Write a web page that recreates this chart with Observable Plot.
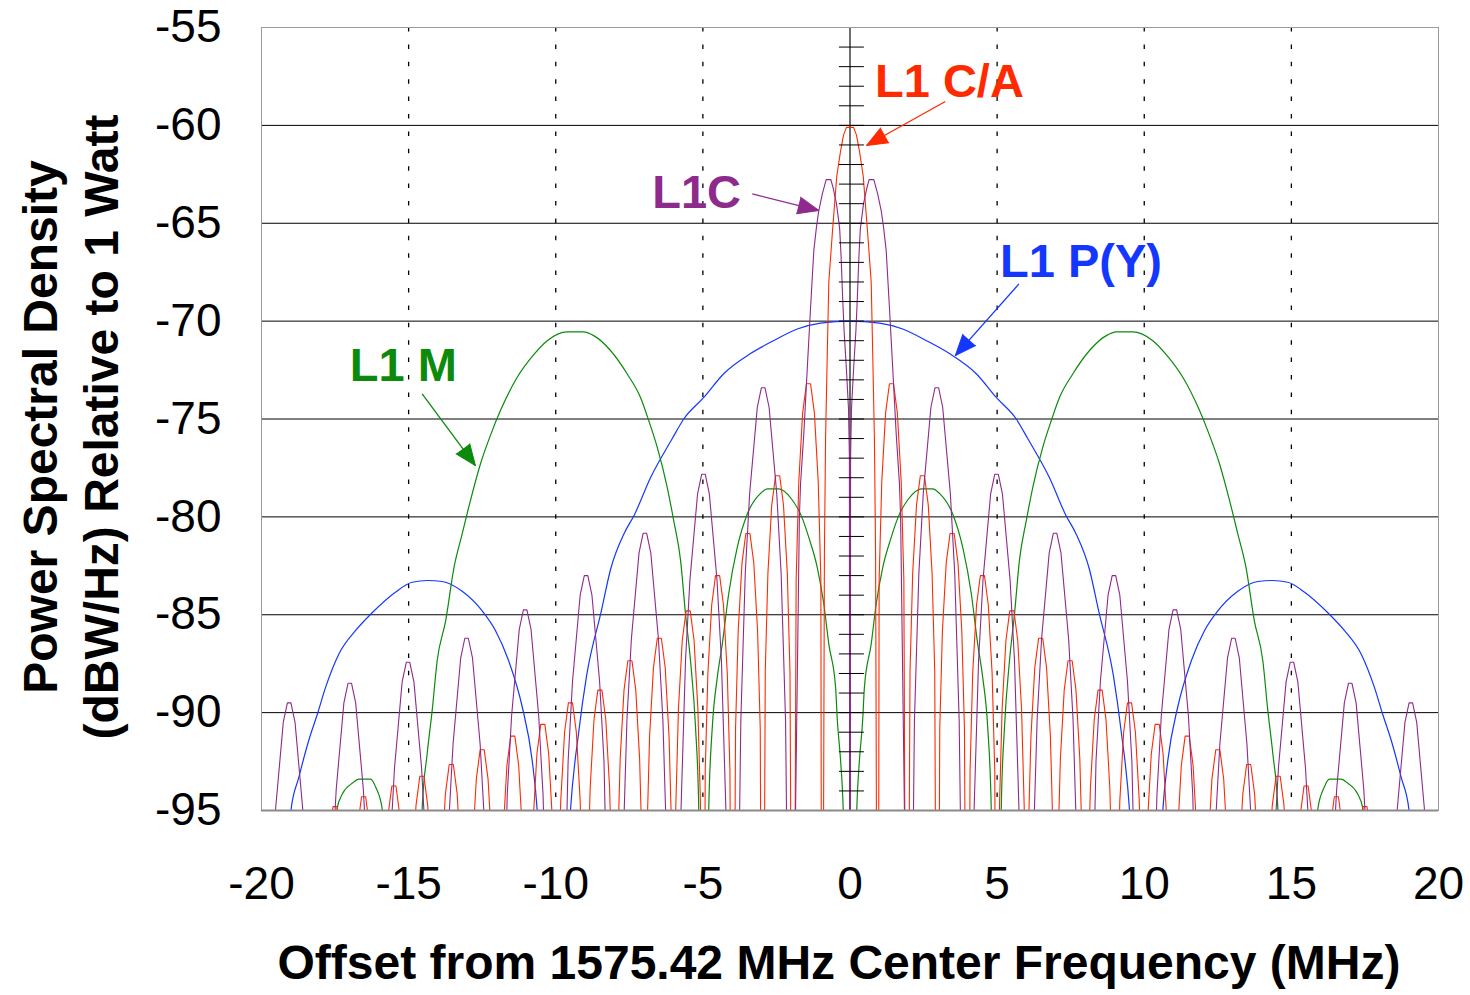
<!DOCTYPE html>
<html><head><meta charset="utf-8">
<script src="https://cdn.jsdelivr.net/npm/d3@7"></script>
<script src="https://cdn.jsdelivr.net/npm/@observablehq/plot@0.6"></script>
<style>body{margin:0;background:#fff;} #chart svg{display:block;}</style>
</head><body><div id="chart"></div>
<script>
// ---- axis ticks / grid values ----
const xTicks = [-20, -15, -10, -5, 0, 5, 10, 15, 20];
const yTicks = [-95, -90, -85, -80, -75, -70, -65, -60, -55];
const xGridDashed = [-15, -10, -5, 5, 10, 15];
const yGridSolid = [-90, -85, -80, -75, -70, -65, -60];
const centerAxisTicks = d3.range(-95, -54, 1);

// ---- series: [MHz offset, dBW/Hz]; -120 marks a spectral null below the floor ----
const caSeries = [
[-18.0,-120],[-17.7,-96.3],[-17.57,-94.8],[-17.43,-94.8],[-17.3,-96.3],[-17.02,-120],
[-16.73,-95.8],[-16.6,-94.3],[-16.46,-94.3],[-16.33,-95.8],[-16.01,-120],
[-15.83,-98.75],[-15.7,-95.25],[-15.57,-93.75],[-15.43,-93.75],[-15.3,-95.25],[-15.17,-98.75],[-15.03,-120],
[-14.88,-98.25],[-14.75,-94.75],[-14.62,-93.25],[-14.48,-93.25],[-14.35,-94.75],[-14.22,-98.25],[-14.05,-120],
[-13.88,-97.65],[-13.75,-94.15],[-13.62,-92.65],[-13.48,-92.65],[-13.35,-94.15],[-13.22,-97.65],[-13.02,-120],
[-12.83,-96.9],[-12.7,-93.4],[-12.57,-91.9],[-12.43,-91.9],[-12.3,-93.4],[-12.17,-96.9],[-11.98,-120],
[-11.79,-96.2],[-11.66,-92.7],[-11.53,-91.2],[-11.39,-91.2],[-11.26,-92.7],[-11.13,-96.2],[-10.94,-120],
[-10.77,-95.6],[-10.64,-92.1],[-10.51,-90.6],[-10.37,-90.6],[-10.24,-92.1],[-10.11,-95.6],[-9.96,-120],
[-9.92,-99.5],[-9.83,-94.5],[-9.7,-91],[-9.57,-89.5],[-9.43,-89.5],[-9.3,-91],[-9.17,-94.5],[-9.08,-99.5],[-9.0,-120],
[-8.92,-98.85],[-8.83,-93.85],[-8.7,-90.35],[-8.57,-88.85],[-8.43,-88.85],[-8.3,-90.35],[-8.17,-93.85],[-8.08,-98.85],[-7.99,-120],
[-7.9,-97.35],[-7.81,-92.35],[-7.68,-88.85],[-7.55,-87.35],[-7.41,-87.35],[-7.28,-88.85],[-7.15,-92.35],[-7.06,-97.35],[-6.98,-120],
[-6.9,-96.2],[-6.81,-91.2],[-6.68,-87.7],[-6.55,-86.2],[-6.41,-86.2],[-6.28,-87.7],[-6.15,-91.2],[-6.06,-96.2],[-5.99,-120],
[-5.92,-94.8],[-5.83,-89.8],[-5.7,-86.3],[-5.57,-84.8],[-5.43,-84.8],[-5.3,-86.3],[-5.17,-89.8],[-5.08,-94.8],[-5.0,-120],
[-4.92,-93],[-4.83,-88],[-4.7,-84.5],[-4.57,-83],[-4.43,-83],[-4.3,-84.5],[-4.17,-88],[-4.08,-93],[-3.99,-120],
[-3.89,-90.85],[-3.8,-85.85],[-3.67,-82.35],[-3.54,-80.85],[-3.4,-80.85],[-3.27,-82.35],[-3.14,-85.85],[-3.05,-90.85],[-2.97,-120],
[-2.88,-87.9],[-2.79,-82.9],[-2.66,-79.4],[-2.53,-77.9],[-2.39,-77.9],[-2.26,-79.4],[-2.13,-82.9],[-2.04,-87.9],[-1.93,-120],
[-1.83,-83.2],[-1.74,-78.2],[-1.61,-74.7],[-1.48,-73.2],[-1.34,-73.2],[-1.21,-74.7],[-1.08,-78.2],[-0.99,-83.2],[-0.95,-120],
[-0.87,-82],[-0.83,-76],[-0.77,-71.5],[-0.72,-68],[-0.6,-65.5],[-0.45,-62.6],[-0.32,-61.3],[-0.22,-60.5],[-0.12,-60.1],
[0.12,-60.1],[0.22,-60.5],[0.32,-61.3],[0.45,-62.6],[0.6,-65.5],[0.72,-68],[0.77,-71.5],[0.83,-76],[0.87,-82],[0.95,-120],
[0.99,-83.2],[1.08,-78.2],[1.21,-74.7],[1.34,-73.2],[1.48,-73.2],[1.61,-74.7],[1.74,-78.2],[1.83,-83.2],[1.93,-120],
[2.04,-87.9],[2.13,-82.9],[2.26,-79.4],[2.39,-77.9],[2.53,-77.9],[2.66,-79.4],[2.79,-82.9],[2.88,-87.9],[2.97,-120],
[3.05,-90.85],[3.14,-85.85],[3.27,-82.35],[3.4,-80.85],[3.54,-80.85],[3.67,-82.35],[3.8,-85.85],[3.89,-90.85],[3.99,-120],
[4.08,-93],[4.17,-88],[4.3,-84.5],[4.43,-83],[4.57,-83],[4.7,-84.5],[4.83,-88],[4.92,-93],[5.0,-120],
[5.08,-94.8],[5.17,-89.8],[5.3,-86.3],[5.43,-84.8],[5.57,-84.8],[5.7,-86.3],[5.83,-89.8],[5.92,-94.8],[5.99,-120],
[6.06,-96.2],[6.15,-91.2],[6.28,-87.7],[6.41,-86.2],[6.55,-86.2],[6.68,-87.7],[6.81,-91.2],[6.9,-96.2],[6.98,-120],
[7.06,-97.35],[7.15,-92.35],[7.28,-88.85],[7.41,-87.35],[7.55,-87.35],[7.68,-88.85],[7.81,-92.35],[7.9,-97.35],[7.99,-120],
[8.08,-98.85],[8.17,-93.85],[8.3,-90.35],[8.43,-88.85],[8.57,-88.85],[8.7,-90.35],[8.83,-93.85],[8.92,-98.85],[9.0,-120],
[9.08,-99.5],[9.17,-94.5],[9.3,-91],[9.43,-89.5],[9.57,-89.5],[9.7,-91],[9.83,-94.5],[9.92,-99.5],[9.96,-120],
[10.11,-95.6],[10.24,-92.1],[10.37,-90.6],[10.51,-90.6],[10.64,-92.1],[10.77,-95.6],[10.94,-120],
[11.13,-96.2],[11.26,-92.7],[11.39,-91.2],[11.53,-91.2],[11.66,-92.7],[11.79,-96.2],[11.98,-120],
[12.17,-96.9],[12.3,-93.4],[12.43,-91.9],[12.57,-91.9],[12.7,-93.4],[12.83,-96.9],[13.02,-120],
[13.22,-97.65],[13.35,-94.15],[13.48,-92.65],[13.62,-92.65],[13.75,-94.15],[13.88,-97.65],[14.05,-120],
[14.22,-98.25],[14.35,-94.75],[14.48,-93.25],[14.62,-93.25],[14.75,-94.75],[14.88,-98.25],[15.03,-120],
[15.17,-98.75],[15.3,-95.25],[15.43,-93.75],[15.57,-93.75],[15.7,-95.25],[15.83,-98.75],[16.01,-120],
[16.33,-95.8],[16.46,-94.3],[16.6,-94.3],[16.73,-95.8],[17.02,-120],
[17.3,-96.3],[17.43,-94.8],[17.57,-94.8],[17.7,-96.3],[18.0,-120]
];

const l1cSeries = [
[-20.05,-120],
[-19.52,-94.9],[-19.26,-90.5],[-19.12,-89.5],[-19.0,-89.5],[-18.86,-90.5],[-18.6,-94.9],[-18.03,-120],
[-17.61,-98],[-17.46,-93.9],[-17.2,-89.5],[-17.06,-88.5],[-16.94,-88.5],[-16.8,-89.5],[-16.54,-93.9],[-16.39,-98],[-16.0,-120],
[-15.63,-96.93],[-15.48,-92.83],[-15.22,-88.43],[-15.08,-87.43],[-14.96,-87.43],[-14.82,-88.43],[-14.56,-92.83],[-14.41,-96.93],[-14.02,-120],
[-13.64,-95.7],[-13.49,-91.6],[-13.23,-87.2],[-13.09,-86.2],[-12.97,-86.2],[-12.83,-87.2],[-12.57,-91.6],[-12.42,-95.7],[-12.03,-120],
[-11.65,-94.25],[-11.5,-90.15],[-11.24,-85.75],[-11.1,-84.75],[-10.98,-84.75],[-10.84,-85.75],[-10.58,-90.15],[-10.43,-94.25],[-10.0,-120],
[-9.58,-92.5],[-9.43,-88.4],[-9.17,-84],[-9.03,-83],[-8.91,-83],[-8.77,-84],[-8.51,-88.4],[-8.36,-92.5],[-7.97,-120],
[-7.73,-97.84],[-7.58,-90.34],[-7.43,-86.24],[-7.17,-81.84],[-7.03,-80.84],[-6.91,-80.84],[-6.77,-81.84],[-6.51,-86.24],[-6.36,-90.34],[-6.21,-97.84],[-5.97,-120],
[-5.74,-94.82],[-5.59,-87.32],[-5.44,-83.22],[-5.18,-78.82],[-5.04,-77.82],[-4.92,-77.82],[-4.78,-78.82],[-4.52,-83.22],[-4.37,-87.32],[-4.22,-94.82],[-3.97,-120],
[-3.71,-90.4],[-3.56,-82.9],[-3.41,-78.8],[-3.15,-74.4],[-3.01,-73.4],[-2.89,-73.4],[-2.75,-74.4],[-2.49,-78.8],[-2.34,-82.9],[-2.19,-90.4],[-1.98,-120],
[-1.85,-95],[-1.72,-80],[-1.68,-78.3],[-1.57,-75.76],[-1.45,-72.36],[-1.34,-69.3],[-1.23,-66.4],[-1.14,-65.2],[-1.06,-64.35],[-0.94,-63.5],[-0.81,-62.77],[-0.65,-62.77],
[-0.58,-63.16],[-0.46,-64.0],[-0.35,-65.3],[-0.3,-66.8],[-0.25,-68.8],[-0.2,-70.5],[-0.12,-72.5],[-0.05,-74.5],[-0.02,-77],[0,-120],
[0.02,-77],[0.05,-74.5],[0.12,-72.5],[0.2,-70.5],[0.25,-68.8],[0.3,-66.8],[0.35,-65.3],[0.46,-64.0],[0.58,-63.16],
[0.65,-62.77],[0.81,-62.77],[0.94,-63.5],[1.06,-64.35],[1.14,-65.2],[1.23,-66.4],[1.34,-69.3],[1.45,-72.36],[1.57,-75.76],[1.68,-78.3],[1.72,-80],[1.85,-95],[1.98,-120],
[2.19,-90.4],[2.34,-82.9],[2.49,-78.8],[2.75,-74.4],[2.89,-73.4],[3.01,-73.4],[3.15,-74.4],[3.41,-78.8],[3.56,-82.9],[3.71,-90.4],[3.97,-120],
[4.22,-94.82],[4.37,-87.32],[4.52,-83.22],[4.78,-78.82],[4.92,-77.82],[5.04,-77.82],[5.18,-78.82],[5.44,-83.22],[5.59,-87.32],[5.74,-94.82],[5.97,-120],
[6.21,-97.84],[6.36,-90.34],[6.51,-86.24],[6.77,-81.84],[6.91,-80.84],[7.03,-80.84],[7.17,-81.84],[7.43,-86.24],[7.58,-90.34],[7.73,-97.84],[7.97,-120],
[8.36,-92.5],[8.51,-88.4],[8.77,-84],[8.91,-83],[9.03,-83],[9.17,-84],[9.43,-88.4],[9.58,-92.5],[10.0,-120],
[10.43,-94.25],[10.58,-90.15],[10.84,-85.75],[10.98,-84.75],[11.1,-84.75],[11.24,-85.75],[11.5,-90.15],[11.65,-94.25],[12.03,-120],
[12.42,-95.7],[12.57,-91.6],[12.83,-87.2],[12.97,-86.2],[13.09,-86.2],[13.23,-87.2],[13.49,-91.6],[13.64,-95.7],[14.02,-120],
[14.41,-96.93],[14.56,-92.83],[14.82,-88.43],[14.96,-87.43],[15.08,-87.43],[15.22,-88.43],[15.48,-92.83],[15.63,-96.93],[16.0,-120],
[16.39,-98],[16.54,-93.9],[16.8,-89.5],[16.94,-88.5],[17.06,-88.5],[17.2,-89.5],[17.46,-93.9],[17.61,-98],[18.03,-120],
[18.6,-94.9],[18.86,-90.5],[19.0,-89.5],[19.12,-89.5],[19.26,-90.5],[19.52,-94.9],[20.05,-120]
];

const pySeries = [
[-19.25,-110],[-19.0,-95],[-18.73,-93.3],[-18.39,-91.4],[-18.1,-90.07],[-17.82,-88.7],[-17.37,-87.0],[-16.8,-85.8],[-16.24,-84.9],
[-15.45,-83.85],[-14.88,-83.34],[-14.35,-83.25],[-13.86,-83.3],[-13.18,-83.8],[-12.5,-84.8],[-12.05,-85.8],[-11.6,-87.35],[-11.14,-89.7],
[-10.8,-92.45],[-10.63,-95],[-10.1,-120],[-9.5,-95],[-9.22,-91],[-8.95,-88.1],[-8.45,-84.8],[-8.14,-82.7],[-7.68,-80.86],[-7.33,-79.9],
[-6.78,-78.0],[-6.04,-76.0],[-5.65,-75.0],[-4.97,-73.9],[-4.3,-72.7],[-3.38,-71.66],[-2.6,-71.0],[-1.79,-70.4],[-1.0,-70.1],[0,-70.0],
[1.0,-70.1],[1.79,-70.4],[2.6,-71.0],[3.38,-71.66],[4.3,-72.7],[4.97,-73.9],[5.65,-75.0],[6.04,-76.0],[6.78,-78.0],[7.33,-79.9],
[7.68,-80.86],[8.14,-82.7],[8.45,-84.8],[8.95,-88.1],[9.22,-91],[9.5,-95],[10.1,-120],[10.63,-95],[10.8,-92.45],[11.14,-89.7],
[11.6,-87.35],[12.05,-85.8],[12.5,-84.8],[13.18,-83.8],[13.86,-83.3],[14.35,-83.25],[14.88,-83.34],[15.45,-83.85],[16.24,-84.9],
[16.8,-85.8],[17.37,-87.0],[17.82,-88.7],[18.1,-90.07],[18.39,-91.4],[18.73,-93.3],[19.0,-95],[19.25,-110]
];

const mSeries = [
[-17.6,-98],[-17.43,-94.9],[-17.25,-94.15],[-16.91,-93.6],[-16.69,-93.4],[-16.29,-93.4],[-16.12,-93.8],[-15.9,-94.9],[-15.75,-98],[-15.2,-120],
[-14.6,-98],[-14.54,-94.9],[-14.37,-92.1],[-14.2,-89.9],[-14.03,-87.35],[-13.74,-85.3],[-13.46,-82.6],[-13.18,-80.87],[-12.9,-79.17],
[-12.56,-77.3],[-12.2,-75.76],[-11.88,-74.57],[-11.31,-72.87],[-10.74,-71.7],[-10.29,-71.0],[-9.61,-70.55],[-9.05,-70.55],[-8.71,-70.74],
[-8.14,-71.5],[-7.57,-72.7],[-7.12,-73.9],[-6.84,-75.08],[-6.55,-76.45],[-6.21,-78.5],[-5.99,-80.2],[-5.76,-82.2],[-5.59,-84.96],
[-5.42,-87.35],[-5.25,-90.75],[-5.14,-94.9],[-4.97,-120],[-4.8,-94.9],[-4.68,-90.75],[-4.51,-88.2],[-4.34,-86.5],[-4.12,-83.9],
[-3.83,-81.55],[-3.49,-79.85],[-3.04,-78.8],[-2.81,-78.57],[-2.42,-78.57],[-1.98,-79.1],[-1.64,-80.0],[-1.4,-81.05],[-1.11,-82.6],
[-0.89,-84.45],[-0.72,-86.5],[-0.49,-88.7],[-0.43,-90.4],[-0.32,-92.45],[-0.23,-95],[0,-120],
[0.23,-95],[0.32,-92.45],[0.43,-90.4],[0.49,-88.7],[0.72,-86.5],[0.89,-84.45],[1.11,-82.6],[1.4,-81.05],[1.64,-80.0],[1.98,-79.1],
[2.42,-78.57],[2.81,-78.57],[3.04,-78.8],[3.49,-79.85],[3.83,-81.55],[4.12,-83.9],[4.34,-86.5],[4.51,-88.2],[4.68,-90.75],[4.8,-94.9],
[4.97,-120],[5.14,-94.9],[5.25,-90.75],[5.42,-87.35],[5.59,-84.96],[5.76,-82.2],[5.99,-80.2],[6.21,-78.5],[6.55,-76.45],[6.84,-75.08],
[7.12,-73.9],[7.57,-72.7],[8.14,-71.5],[8.71,-70.74],[9.05,-70.55],[9.61,-70.55],[10.29,-71.0],[10.74,-71.7],[11.31,-72.87],
[11.88,-74.57],[12.2,-75.76],[12.56,-77.3],[12.9,-79.17],[13.18,-80.87],[13.46,-82.6],[13.74,-85.3],[14.03,-87.35],[14.2,-89.9],
[14.37,-92.1],[14.54,-94.9],[14.6,-98],[15.2,-120],[15.75,-98],[15.9,-94.9],[16.12,-93.8],[16.29,-93.4],[16.69,-93.4],[16.91,-93.6],
[17.25,-94.15],[17.43,-94.9],[17.6,-98]
];

// ---- annotations ----
const labelText = ["L1 C/A", "L1C", "L1 P(Y)", "L1 M"];
const labelX = [0.85, -6.72, 5.1, -17.0];
const labelY = [-58.55, -64.2, -67.75, -73.05];
const seriesColor = ["#ff2a00", "#8e2a8c", "#1437ff", "#0b8a0b"];
const arrowTailX = [3.24, -3.32, 5.74, -14.54];
const arrowTailY = [-58.78, -63.5, -68.1, -73.72];
const arrowTipX = [0.56, -1.06, 3.58, -12.73];
const arrowTipY = [-61.03, -64.35, -71.76, -77.38];
const arrowAngle = [241, 104, 221.4, 143.4];

const labels = labelText.map((t, i) => ({t, x: labelX[i], y: labelY[i], c: seriesColor[i]}));
const arrows = arrowTipX.map((_, i) => ({x1: arrowTailX[i], y1: arrowTailY[i], x2: arrowTipX[i], y2: arrowTipY[i], a: arrowAngle[i], c: seriesColor[i]}));

const FONT = '"Liberation Sans", Arial, Helvetica, sans-serif';

const chart = Plot.plot({
  width: 1470, height: 995,
  marginLeft: 261, marginRight: 32, marginTop: 27, marginBottom: 185,
  style: {fontFamily: FONT, background: "#fff", overflow: "visible"},
  x: {domain: [-20, 20]},
  y: {domain: [-95, -55]},
  marks: [
    Plot.ruleY(yGridSolid, {stroke: "#000", strokeWidth: 1}),
    Plot.ruleX(xGridDashed, {stroke: "#000", strokeWidth: 1.3, strokeDasharray: "4.5,12.9"}),
    Plot.ruleX([0], {stroke: "#6e6e6e", strokeWidth: 2}),
    Plot.line(pySeries, {stroke: seriesColor[2], strokeWidth: 1.2, curve: "monotone-x", clip: true}),
    Plot.line(mSeries, {stroke: seriesColor[3], strokeWidth: 1.2, curve: "monotone-x", clip: true}),
    Plot.line(caSeries, {stroke: seriesColor[0], strokeWidth: 1.1, clip: true}),
    Plot.line(l1cSeries, {stroke: seriesColor[1], strokeWidth: 1.1, clip: true}),
    Plot.ruleY(centerAxisTicks, {x1: -0.36, x2: 0.49, stroke: "#000", strokeWidth: 1}),
    Plot.frame({stroke: "#9a9a9a", strokeWidth: 1}),
    Plot.ruleY([-95], {stroke: "#8a8a8a", strokeWidth: 2}),
    Plot.axisX(xTicks, {tickSize: 0, tickPadding: 56, fontSize: 46, label: null, tickFormat: d => String(d)}),
    Plot.axisY(yTicks, {tickSize: 0, tickPadding: 40, fontSize: 46, label: null, tickFormat: d => String(d)}),
    Plot.link(arrows, {x1: "x1", y1: "y1", x2: "x2", y2: "y2", stroke: "c", strokeWidth: 1.3}),
    Plot.vector(arrows, {x: "x2", y: "y2", rotate: "a", length: 21, r: 8.5, shape: "spike", anchor: "end", fill: "c", stroke: "c", strokeWidth: 1}),
    Plot.text(labels, {x: "x", y: "y", text: "t", fill: "c", textAnchor: "start", lineAnchor: "bottom", fontSize: 47, fontWeight: "bold"})
  ]
});

const svg = d3.select(chart);
svg.append("text")
  .attr("x", 839).attr("y", 979)
  .attr("text-anchor", "middle")
  .attr("font-family", FONT).attr("font-weight", "bold").attr("font-size", 48)
  .attr("fill", "#000")
  .text("Offset from 1575.42 MHz Center Frequency (MHz)");
svg.append("text")
  .attr("transform", "translate(57,427) rotate(-90)")
  .attr("text-anchor", "middle")
  .attr("font-family", FONT).attr("font-weight", "bold").attr("font-size", 48)
  .attr("fill", "#000")
  .text("Power Spectral Density");
svg.append("text")
  .attr("transform", "translate(118,427) rotate(-90)")
  .attr("text-anchor", "middle")
  .attr("font-family", FONT).attr("font-weight", "bold").attr("font-size", 48)
  .attr("fill", "#000")
  .text("(dBW/Hz) Relative to 1 Watt");

document.getElementById("chart").appendChild(chart);
</script></body></html>
